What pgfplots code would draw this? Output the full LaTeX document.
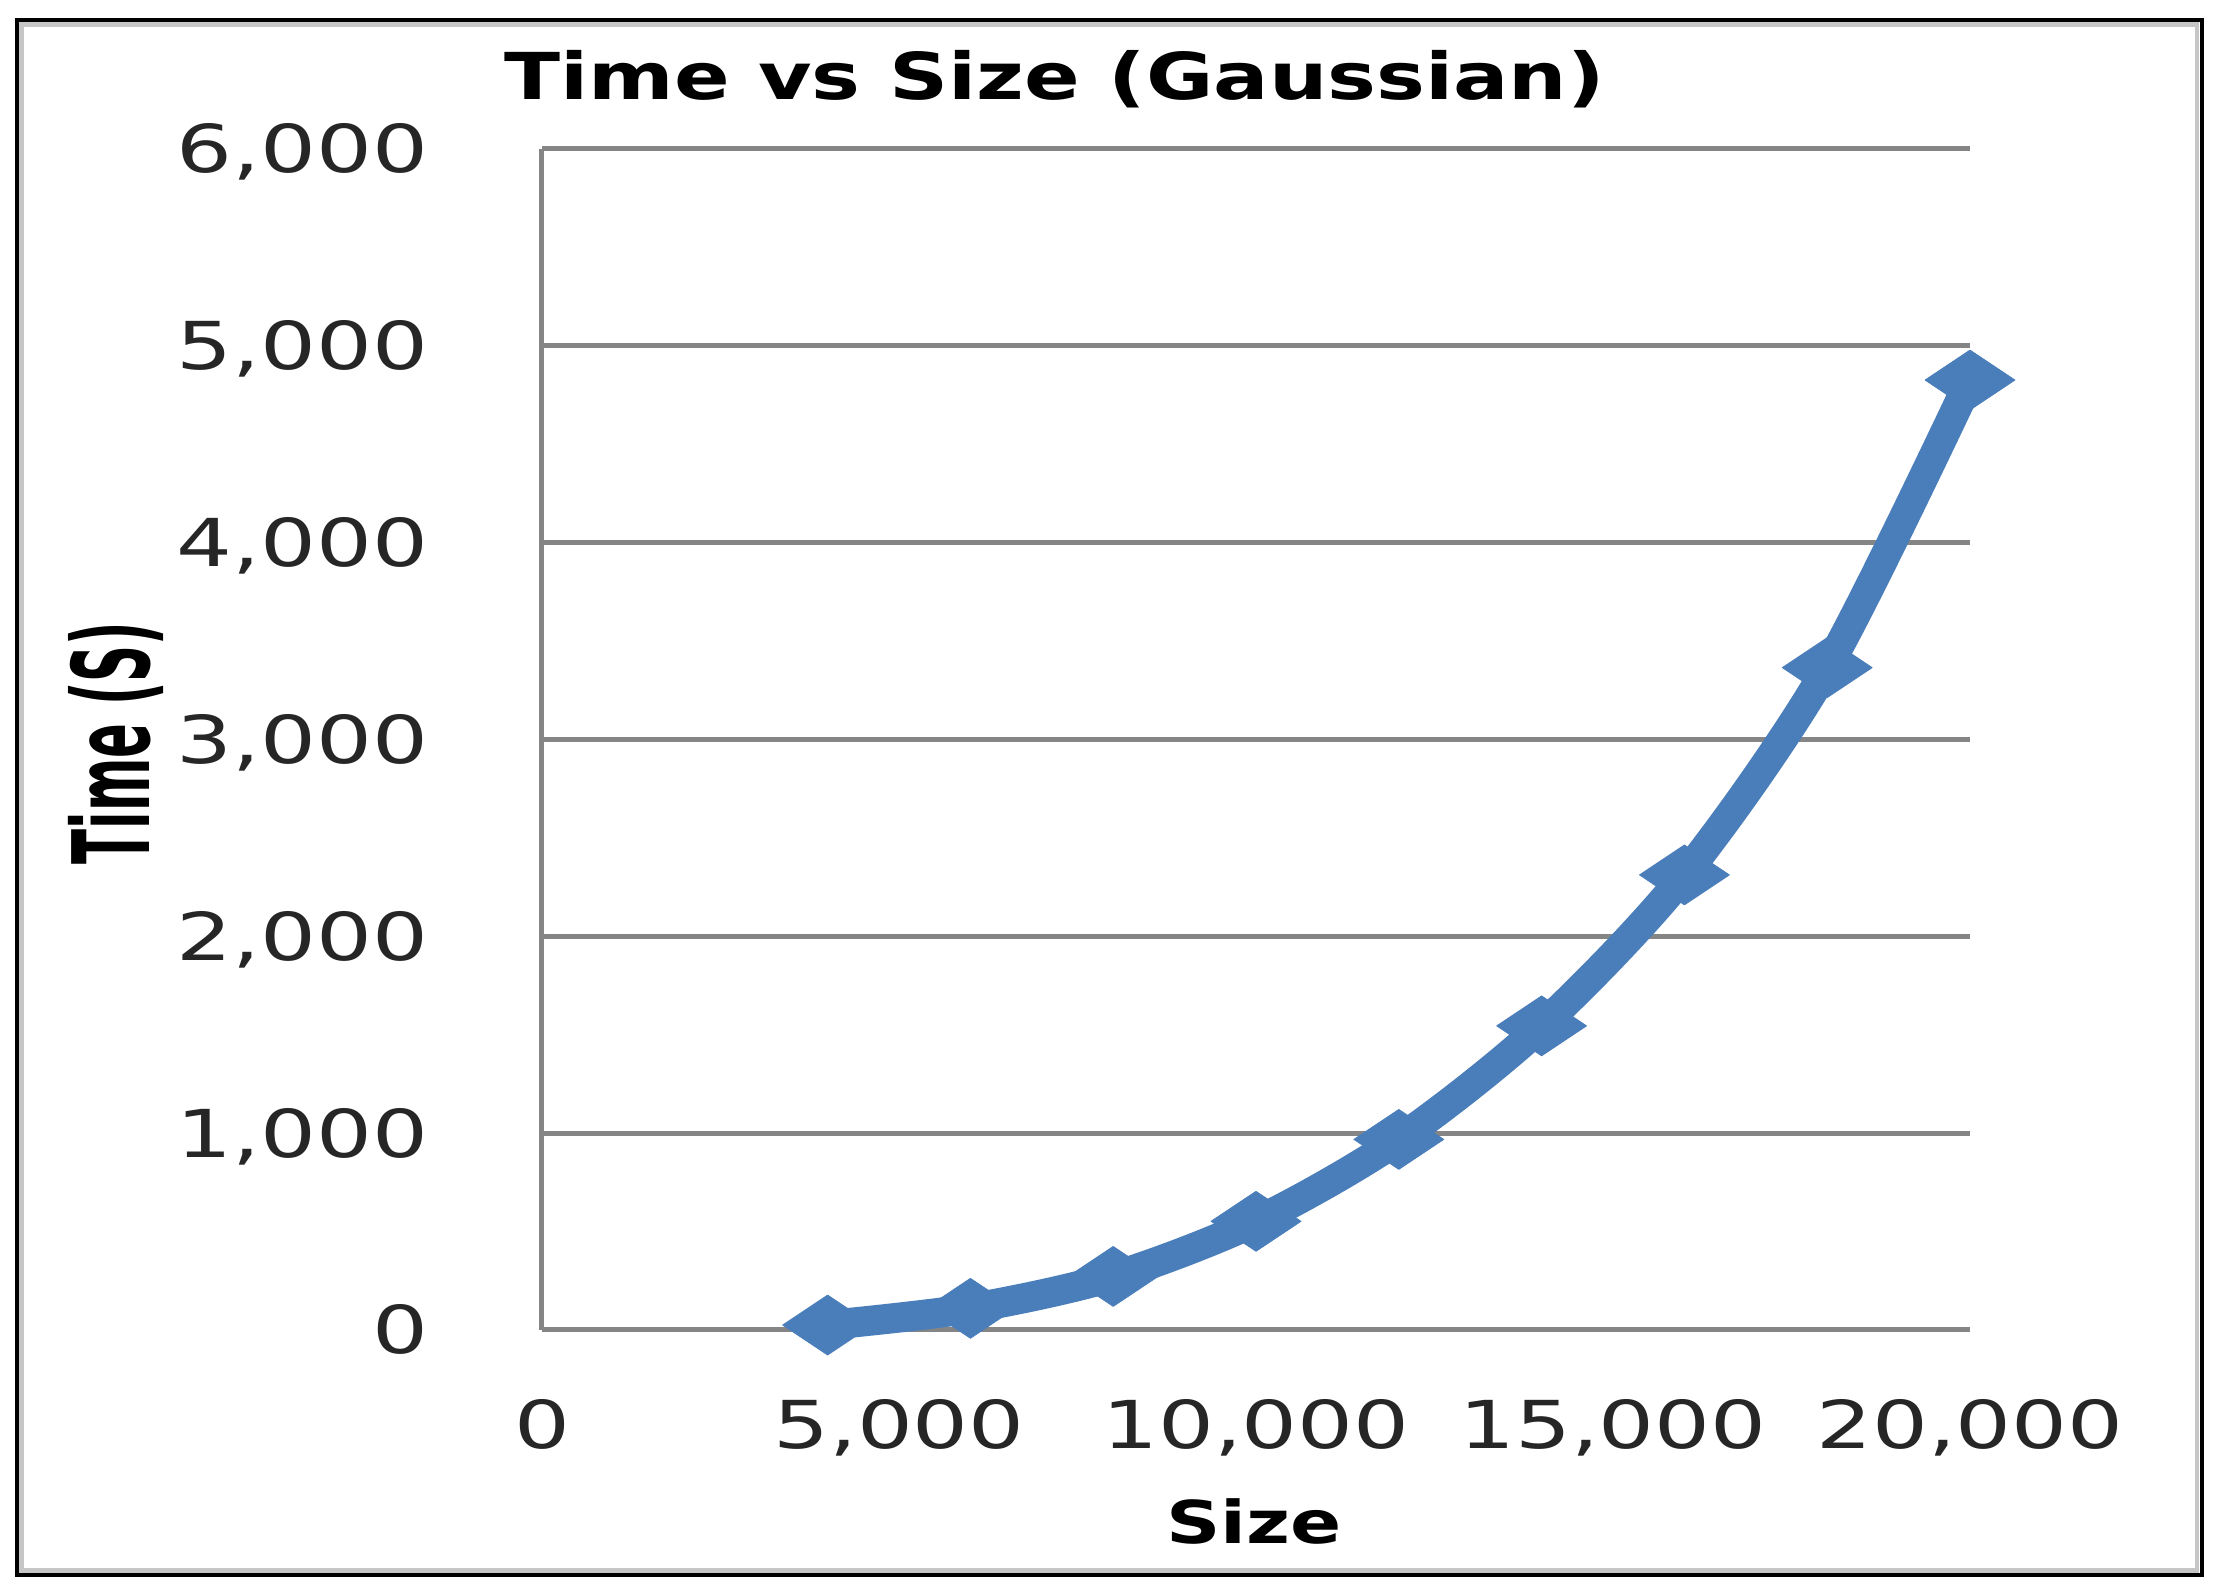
\documentclass[border=0pt]{standalone}
\usepackage{fontspec}
\usepackage{pgfplots}
\pgfplotsset{compat=1.18}
\setmainfont{DejaVu Sans}
% Excel-style stretched sans faces
\newfontfamily\tickfont{DejaVu Sans}[FakeStretch=1.33]
\newfontfamily\titlefont{DejaVu Sans}[FakeStretch=1.27]
\newfontfamily\xlabfont{DejaVu Sans}[FakeStretch=1.28]
\newfontfamily\ylabfont{DejaVu Sans}[FakeStretch=0.48]
\definecolor{series}{HTML}{4A7EBB}
\definecolor{gridgray}{HTML}{858585}

\begin{document}
\begin{tikzpicture}
\useasboundingbox (0,0) rectangle (221.9mm,159.4mm);
\fill[white] (0,0) rectangle (221.9mm,159.4mm);
\draw[gray!45, line width=0.45mm] (2.15mm,2.35mm) rectangle (219.7mm,156.95mm);
\draw[black, line width=0.4mm] (1.7mm,1.9mm) rectangle (220.15mm,157.4mm);

\begin{axis}[
  at={(54.2mm,26.4mm)}, anchor=south west,
  scale only axis,
  width=142.8mm,
  height=118.1mm,
  xmin=0, xmax=20000,
  ymin=0, ymax=6000,
  xtick={0,5000,10000,15000,20000},
  ytick={0,1000,...,6000},
  axis lines*=left,
  axis line style={gridgray, line width=0.5mm},
  ymajorgrids,
  major grid style={gridgray, line width=0.5mm},
  major tick length=0pt,
  clip=false,
  scaled ticks=false,
  /pgf/number format/.cd, 1000 sep={,}, assume math mode=true, /pgfplots/.cd,
  tick label style={font=\tickfont\fontsize{18.8}{20}\selectfont, inner sep=0pt, text=black!85},
  xticklabel style={anchor=base, yshift=-11.9mm},
  yticklabel style={anchor=base east, xshift=-11.3mm, yshift=-2.4mm},
  title={Time vs Size (Gaussian)},
  every axis title/.style={at={(axis description cs:0.359,1.0415)}, anchor=base, inner sep=0pt,
    font=\titlefont\bfseries\fontsize{18.4}{20}\selectfont},
  xlabel={Size},
  every axis x label/.style={at={(axis description cs:0.4986,-0.1804)}, anchor=base, inner sep=0pt,
    font=\xlabfont\bfseries\fontsize{16.8}{18}\selectfont},
  ylabel={Time (S)},
  every axis y label/.style={at={(axis description cs:-0.2983,0.497)}, anchor=center, rotate=90, inner sep=0pt,
    font=\ylabfont\bfseries\fontsize{30.4}{32}\selectfont},
]

\addplot[series, line width=3mm, line join=round, line cap=round, smooth,
  mark=diamond*, mark size=3mm,
  mark options={solid, xscale=2.0, line width=0.2pt, fill=series, draw=series}]
  coordinates {
  (4000,25)
  (6000,110)
  (8000,272)
  (10000,552)
  (12000,968)
  (14000,1545)
  (16000,2312)
  (18000,3365)
  (20000,4826)
};

\end{axis}
\end{tikzpicture}
\end{document}
